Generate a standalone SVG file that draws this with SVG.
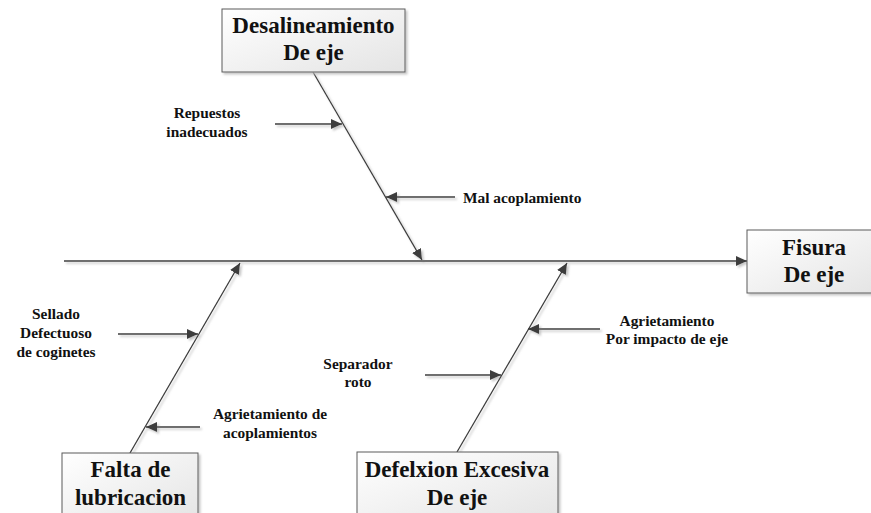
<svg xmlns="http://www.w3.org/2000/svg" width="871" height="513" viewBox="0 0 871 513">
  <defs>
    <linearGradient id="boxFill" x1="0" y1="0" x2="1" y2="1">
      <stop offset="0" stop-color="#ffffff"/>
      <stop offset="1" stop-color="#e4e4e4"/>
    </linearGradient>
    <filter id="shade" x="-10%" y="-10%" width="130%" height="130%">
      <feDropShadow dx="2" dy="2" stdDeviation="0.8" flood-color="#b8b8b8" flood-opacity="0.8"/>
    </filter>
    <marker id="arrow" markerUnits="userSpaceOnUse" markerWidth="14" markerHeight="12" refX="11" refY="5" orient="auto">
      <path d="M0,0 L11,5 L0,10 Z" fill="#3c3c3c"/>
    </marker>
    <style>
      text { font-family: 'Liberation Serif', 'DejaVu Serif', serif; font-weight: bold; fill: #111; text-anchor: middle; }
      .title { font-size: 23px; }
      .label { font-size: 15.4px; }
      .start { text-anchor: start; }
      .box { fill: url(#boxFill); stroke: #5a5a5a; stroke-width: 1; filter: url(#shade); }
      .bone { stroke: #3c3c3c; stroke-width: 1.3; fill: none; marker-end: url(#arrow); }
    </style>
  </defs>

  <rect width="871" height="513" fill="#ffffff"/>

  <!-- connectors: spine, main bones and cause arrows -->
  <g id="connectors" filter="url(#shade)">
    <line class="bone" x1="64" y1="261" x2="747" y2="261"/>
    <line class="bone" x1="313" y1="72" x2="422" y2="260"/>
    <line class="bone" x1="130" y1="453" x2="240" y2="263"/>
    <line class="bone" x1="457" y1="452" x2="567" y2="263"/>
    <line class="bone" x1="275" y1="124" x2="342" y2="124"/>
    <line class="bone" x1="455" y1="197" x2="386" y2="197"/>
    <line class="bone" x1="118" y1="334" x2="198" y2="334"/>
    <line class="bone" x1="200" y1="427" x2="146" y2="427"/>
    <line class="bone" x1="600" y1="329" x2="528" y2="329"/>
    <line class="bone" x1="425" y1="375" x2="501" y2="375"/>
  </g>

  <!-- cause boxes -->
  <g id="desalineamiento">
    <rect class="box" x="222" y="9" width="183" height="63"/>
    <text class="title" x="313.5" y="33">Desalineamiento</text>
    <text class="title" x="313.5" y="60">De eje</text>
  </g>
  <g id="fisura">
    <rect class="box" x="747" y="230" width="132" height="63"/>
    <text class="title" x="814" y="255">Fisura</text>
    <text class="title" x="814" y="282">De eje</text>
  </g>
  <g id="falta-lubricacion">
    <rect class="box" x="62" y="453" width="136" height="70"/>
    <text class="title" x="130.5" y="477">Falta de</text>
    <text class="title" x="130.5" y="505">lubricacion</text>
  </g>
  <g id="defelxion">
    <rect class="box" x="357" y="452" width="201" height="70"/>
    <text class="title" x="457" y="477">Defelxion Excesiva</text>
    <text class="title" x="457" y="505">De eje</text>
  </g>

  <!-- sub-cause labels -->
  <g id="repuestos">
    <text class="label" x="207" y="118">Repuestos</text>
    <text class="label" x="207" y="137">inadecuados</text>
  </g>
  <g id="mal-acoplamiento">
    <text class="label start" x="463" y="203">Mal acoplamiento</text>
  </g>
  <g id="sellado">
    <text class="label" x="56" y="319">Sellado</text>
    <text class="label" x="56" y="338">Defectuoso</text>
    <text class="label" x="56" y="357">de coginetes</text>
  </g>
  <g id="agrietamiento-acoplamientos">
    <text class="label" x="270" y="419">Agrietamiento de</text>
    <text class="label" x="270" y="438">acoplamientos</text>
  </g>
  <g id="agrietamiento-impacto">
    <text class="label" x="667" y="326">Agrietamiento</text>
    <text class="label" x="667" y="344">Por impacto de eje</text>
  </g>
  <g id="separador">
    <text class="label" x="358" y="369">Separador</text>
    <text class="label" x="358" y="387">roto</text>
  </g>
</svg>
